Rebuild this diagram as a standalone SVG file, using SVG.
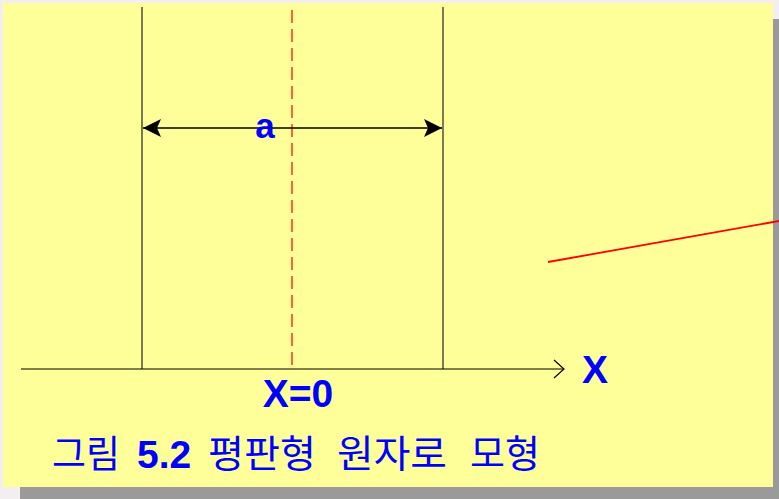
<svg xmlns="http://www.w3.org/2000/svg" width="779" height="499" viewBox="0 0 779 499">
  <style>
    .lbl { font-family: "Liberation Sans", Arial, sans-serif; font-weight: bold; fill: #0000ff; }
    .kr { font-family: "Noto Sans CJK KR", "Noto Sans", sans-serif; fill: #0000ff; font-size: 38px; font-weight: 400; }
    .wall { stroke: #222; stroke-width: 1.2; }
  </style>
  <defs>
    <marker id="fillArrow" viewBox="0 0 18 18" refX="18" refY="9" markerWidth="18" markerHeight="18" markerUnits="userSpaceOnUse" orient="auto-start-reverse">
      <path d="M0,0 L18,9 L0,18 L4,9 Z" fill="#000"/>
    </marker>
    <marker id="openArrow" viewBox="0 0 12 20" refX="11" refY="10" markerWidth="12" markerHeight="20" markerUnits="userSpaceOnUse" orient="auto">
      <path d="M1,1 L11,10 L1,19" fill="none" stroke="#000" stroke-width="1.2"/>
    </marker>
  </defs>
  <rect x="0" y="0" width="779" height="499" fill="#f3eef0"/>
  <rect x="20" y="19" width="759" height="480" fill="#9a9a9a"/>
  <rect x="3" y="3" width="770" height="484" fill="#ffff99"/>

  <g id="wall-left"><line class="wall" x1="142" y1="7" x2="142" y2="369"/></g>
  <g id="wall-right"><line class="wall" x1="443" y1="7" x2="443" y2="369"/></g>
  <g id="centerline"><line x1="292" y1="10" x2="292" y2="369" stroke="#ff0000" stroke-width="1.2" stroke-dasharray="13,6"/></g>

  <g id="connectors">
    <line x1="143" y1="128" x2="442" y2="128" stroke="#000" stroke-width="1.5" marker-start="url(#fillArrow)" marker-end="url(#fillArrow)"/>
    <line x1="21" y1="369" x2="564" y2="369" stroke="#000" stroke-width="1.2" marker-end="url(#openArrow)"/>
    <line x1="548" y1="262" x2="779" y2="221" stroke="#ff0000" stroke-width="1.8"/>
  </g>

  <g id="labels">
    <text class="lbl" x="265" y="138" font-size="35" text-anchor="middle">a</text>
    <text class="lbl" x="298" y="407" font-size="39" text-anchor="middle">X=0</text>
    <text class="lbl" x="595" y="383" font-size="39" text-anchor="middle">X</text>
  </g>

  <g id="caption">
    <text class="kr" x="52" y="467" textLength="68" lengthAdjust="spacingAndGlyphs">그림</text>
    <text class="lbl" x="137" y="468" font-size="39">5.2</text>
    <text class="kr" x="208" y="467" textLength="108" lengthAdjust="spacingAndGlyphs">평판형</text>
    <text class="kr" x="337" y="467" textLength="110" lengthAdjust="spacingAndGlyphs">원자로</text>
    <text class="kr" x="470" y="467" textLength="70" lengthAdjust="spacingAndGlyphs">모형</text>
  </g>
</svg>
